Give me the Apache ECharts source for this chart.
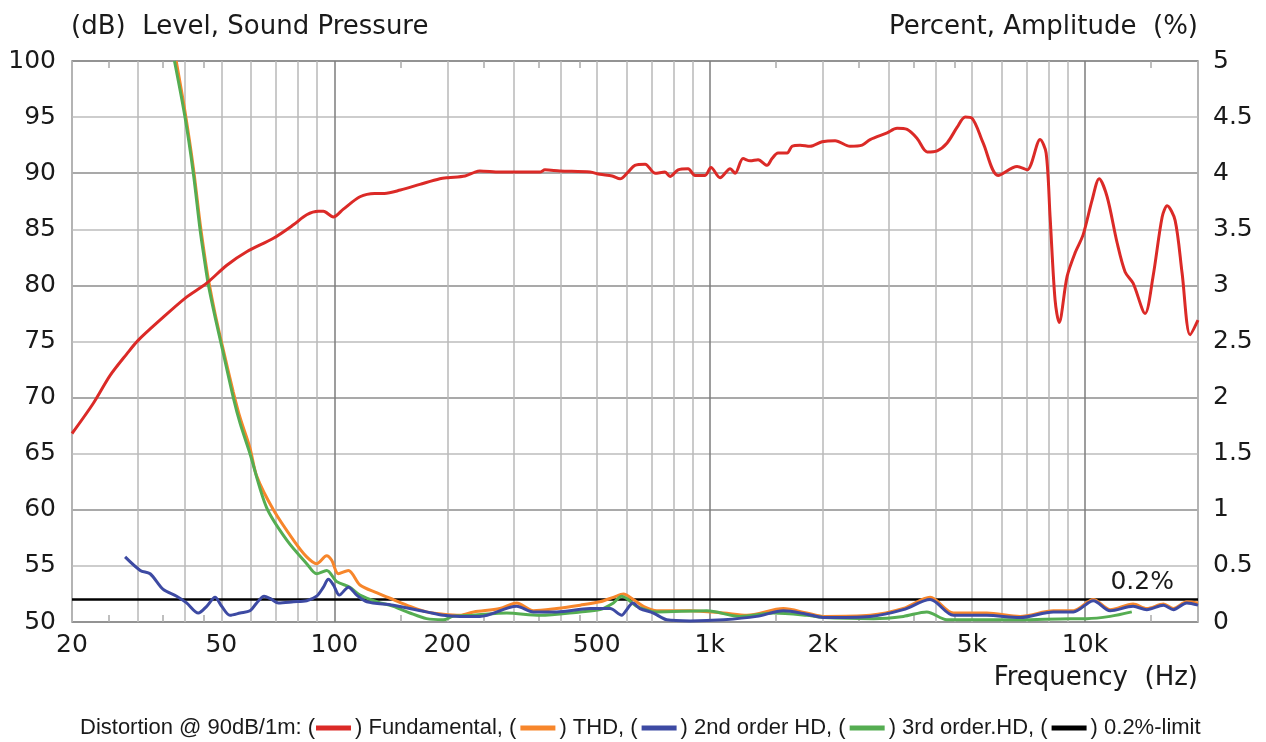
<!DOCTYPE html>
<html><head><meta charset="utf-8">
<script src="https://cdn.jsdelivr.net/npm/echarts@6/dist/echarts.min.js"></script>
<style>html,body{margin:0;padding:0;background:#fff}#c{width:1266px;height:742px}</style>
</head><body><div id="c"></div>
<script>
// ---- data ----
const gridFreqs = [20,30,40,50,60,70,80,90,100,200,300,400,500,600,700,800,900,1000,2000,3000,4000,5000,6000,7000,8000,9000,10000,20000];
const labelFreqs = [20,50,100,200,500,1000,2000,5000,10000];
const minorFreqs = [25,35,45,150,250,350,450,1500,2500,3500,4500,15000];

const fundamental = [[20,66.8],[22.8,69.5],[25.3,72.0],[28.0,73.9],[30.0,75.1],[34.3,76.9],[40,78.85],[45.7,80.2],[51.7,81.8],[58.4,83.0],[68.8,84.2],[77.8,85.4],[84.4,86.3],[90.7,86.6],[93.5,86.6],[99.4,86.1],[105.7,86.8],[117,87.9],[128,88.2],[136,88.2],[150,88.5],[169,89.0],[191,89.5],[201,89.6],[223,89.75],[237,90.1],[244,90.2],[276,90.1],[353,90.1],[364,90.3],[399,90.2],[480,90.1],[510,89.9],[550,89.75],[577,89.5],[606,90.1],[632,90.7],[673,90.8],[715,90.0],[760,90.1],[784,89.7],[824,90.3],[876,90.4],[914,89.8],[972,89.8],[1008,90.5],[1066,89.6],[1134,90.4],[1169,90.0],[1227,91.3],[1282,91.1],[1346,91.2],[1422,90.7],[1466,91.3],[1521,91.8],[1608,91.8],[1658,92.4],[1742,92.5],[1851,92.4],[1993,92.8],[2159,92.9],[2366,92.4],[2548,92.5],[2676,93.0],[2970,93.6],[3156,94.0],[3357,93.9],[3570,93.1],[3797,91.9],[4036,92.0],[4292,92.7],[4565,94.1],[4795,95.0],[5000,94.9],[5352,92.7],[5868,89.8],[6592,90.6],[7008,90.3],[7593,93.0],[7877,91.8],[8072,86.1],[8322,78.7],[8531,76.7],[8960,80.8],[9409,82.9],[9882,84.5],[10444,87.6],[10905,89.5],[11452,87.9],[12176,83.8],[12790,81.2],[13430,80.2],[14456,77.5],[15180,80.8],[16052,86.1],[16552,87.1],[17380,85.8],[18140,81.1],[19056,75.6],[20000,76.9]];

const thd = [[37.9,5.0],[40,4.55],[42.1,4.05],[43.9,3.55],[45.2,3.25],[46.2,3.05],[48.1,2.75],[50.4,2.45],[53.8,2.05],[56.1,1.82],[59.6,1.55],[62.1,1.3],[68.8,1.0],[77.8,0.73],[84.4,0.58],[89.7,0.52],[95.4,0.59],[98.4,0.55],[102.5,0.43],[109,0.46],[117,0.33],[130,0.26],[143.6,0.2],[159,0.14],[176,0.09],[195,0.07],[216,0.06],[235,0.09],[276,0.12],[306,0.17],[339,0.10],[391,0.12],[452,0.15],[510,0.18],[554,0.22],[589,0.25],[626,0.2],[666,0.14],[723,0.1],[887,0.1],[1088,0.08],[1256,0.06],[1572,0.12],[1813,0.08],[2009,0.05],[2676,0.06],[3281,0.12],[3866,0.22],[4460,0.08],[5475,0.08],[6714,0.05],[8238,0.1],[9311,0.1],[10526,0.2],[11666,0.11],[13430,0.16],[14608,0.12],[16178,0.16],[17202,0.12],[18673,0.18],[20000,0.17]];

const hd2 = [[27.7,0.58],[30.4,0.46],[32.3,0.43],[35.0,0.29],[38.0,0.23],[40.4,0.17],[43.4,0.08],[45.7,0.14],[48.1,0.22],[50.1,0.14],[52.7,0.06],[56.1,0.08],[59.6,0.1],[62.1,0.17],[65.0,0.23],[67.4,0.21],[70.9,0.17],[77.8,0.18],[84.4,0.19],[89.7,0.23],[93.5,0.31],[96.4,0.38],[99.4,0.33],[103.1,0.24],[109,0.31],[114.7,0.24],[122,0.18],[143.6,0.15],[176,0.09],[195,0.06],[216,0.05],[244,0.05],[306,0.14],[339,0.09],[391,0.09],[480,0.12],[543,0.12],[583,0.06],[601,0.11],[624,0.17],[652,0.12],[708,0.08],[769,0.02],[887,0.01],[1088,0.02],[1335,0.05],[1572,0.1],[1813,0.07],[2009,0.04],[2676,0.05],[3281,0.11],[3866,0.2],[4460,0.06],[5475,0.06],[6714,0.04],[8238,0.09],[9311,0.09],[10526,0.19],[11666,0.1],[13430,0.14],[14608,0.11],[16178,0.15],[17202,0.11],[18673,0.17],[20000,0.15]];

const hd3 = [[37.5,5.0],[40,4.5],[42.1,4.0],[43.9,3.49],[45.2,3.2],[46.2,3.0],[48.1,2.72],[50.4,2.42],[53.8,2.0],[56.1,1.77],[59.6,1.5],[66.0,1.02],[74.7,0.73],[84.4,0.52],[89.7,0.43],[95.4,0.46],[101.5,0.36],[110,0.31],[117,0.24],[130,0.18],[143.6,0.14],[159,0.08],[176,0.03],[195,0.02],[207,0.05],[235,0.06],[288,0.08],[353,0.06],[452,0.09],[510,0.11],[554,0.17],[583,0.23],[601,0.21],[639,0.14],[723,0.09],[982,0.1],[1205,0.05],[1478,0.08],[1813,0.06],[2009,0.04],[2730,0.03],[3281,0.05],[3788,0.09],[4284,0.02],[5475,0.02],[6714,0.02],[9126,0.03],[10108,0.03],[11666,0.05],[13324,0.09]];

const limitPct = 0.2;
const limitFreqs = [20, 20000];
const limitLabelFreq = 14200;

// ---- chart ----
const FONT = 'DejaVu Sans';
const TXT = '#1a1a1a';
const chart = echarts.init(document.getElementById('c'), null, {renderer: 'canvas'});
const xFmt = v => v >= 1000 ? (v / 1000) + 'k' : String(v);
const xLight = '#b8b8b8', xDark = '#7c7c7c';
const xColors = [xLight,xLight,xLight,xLight,xLight,xLight,xLight,xLight,xDark];

const names = ['Fundamental', 'THD', '2nd order HD', '3rd order.HD', '0.2%-limit'];

chart.setOption({
  animation: false,
  backgroundColor: '#fff',
  title: [
    {text: '(dB)  Level, Sound Pressure', left: 71, top: 14, padding: 0, textStyle: {fontFamily: FONT, fontSize: 26, fontWeight: 'normal', color: TXT}},
    {text: 'Percent, Amplitude  (%)', right: 68, top: 14, padding: 0, textStyle: {fontFamily: FONT, fontSize: 26, fontWeight: 'normal', color: TXT}},
    {text: 'Frequency  (Hz)', right: 68, top: 665, padding: 0, textStyle: {fontFamily: FONT, fontSize: 26, fontWeight: 'normal', color: TXT}},
    {text: 'Distortion @ 90dB/1m: (', left: 80, top: 717, padding: 0, textStyle: {fontFamily: 'Liberation Sans', fontSize: 22, fontWeight: 'normal', color: TXT}}
  ],
  legend: {
    left: 316, top: 717, padding: 0, itemGap: 4, itemWidth: 35, itemHeight: 5, icon: 'rect',
    data: names, selectedMode: false,
    formatter: n => n === '0.2%-limit' ? ') ' + n : ') ' + n + ', (',
    textStyle: {fontFamily: 'Liberation Sans', fontSize: 22, color: TXT, padding: [0,0,0,-1]}
  },
  grid: {left: 72, right: 68, top: 61, bottom: 120, show: true, borderColor: '#8a8a8a', borderWidth: 1.5, containLabel: false},
  xAxis: [
    {type: 'log', logBase: 10, min: 20, max: 20000, position: 'bottom',
     axisLine: {show: false}, axisTick: {show: false, customValues: gridFreqs},
     axisLabel: {customValues: labelFreqs, formatter: xFmt, fontFamily: FONT, fontSize: 25, color: TXT, margin: 11},
     splitLine: {show: true, lineStyle: {color: xColors, width: 1.5}}},
    {type: 'log', logBase: 10, min: 20, max: 20000, position: 'top',
     axisLine: {show: false}, axisLabel: {show: false}, splitLine: {show: false},
     axisTick: {show: true, inside: true, length: 7, customValues: minorFreqs, lineStyle: {color: '#aaa', width: 1.5}}},
    {type: 'log', logBase: 10, min: 20, max: 20000, position: 'bottom',
     axisLine: {show: false}, axisLabel: {show: false}, splitLine: {show: false},
     axisTick: {show: true, inside: true, length: 7, customValues: minorFreqs, lineStyle: {color: '#aaa', width: 1.5}}}
  ],
  yAxis: [
    {type: 'value', min: 50, max: 100, interval: 5, position: 'left',
     axisLine: {show: false}, axisTick: {show: false},
     axisLabel: {fontFamily: FONT, fontSize: 25, color: TXT, margin: 16},
     splitLine: {show: true, lineStyle: {color: ['#8c8c8c', '#bdbdbd'], width: 1.5}}},
    {type: 'value', min: 0, max: 5, interval: 0.5, position: 'right',
     axisLine: {show: false}, axisTick: {show: false},
     axisLabel: {fontFamily: FONT, fontSize: 25, color: TXT, margin: 15},
     splitLine: {show: false}}
  ],
  series: [
    {name: '0.2%-limit', type: 'line', xAxisIndex: 0, yAxisIndex: 1, data: limitFreqs.map(f => [f, limitPct]), symbol: 'none', color: '#000', lineStyle: {color: '#000', width: 2.5}, z: 2,
     markPoint: {silent: true, symbol: 'circle', symbolSize: 0,
       data: [{coord: [limitLabelFreq, limitPct]}],
       label: {show: true, formatter: '0.2%', position: 'top', distance: 5, fontFamily: FONT, fontSize: 25, color: TXT}}},
    {name: 'THD', type: 'line', xAxisIndex: 0, yAxisIndex: 1, data: thd, symbol: 'none', smooth: 0.3, color: '#f7862b', lineStyle: {width: 3}, z: 3},
    {name: '3rd order.HD', type: 'line', xAxisIndex: 0, yAxisIndex: 1, data: hd3, symbol: 'none', smooth: 0.3, color: '#55ad52', lineStyle: {width: 3}, z: 4},
    {name: '2nd order HD', type: 'line', xAxisIndex: 0, yAxisIndex: 1, data: hd2, symbol: 'none', smooth: 0.3, color: '#3d4aa3', lineStyle: {width: 3}, z: 5},
    {name: 'Fundamental', type: 'line', xAxisIndex: 0, yAxisIndex: 0, data: fundamental, symbol: 'none', smooth: 0.3, color: '#db2a27', lineStyle: {width: 3}, z: 6}
  ]
});
</script></body></html>
